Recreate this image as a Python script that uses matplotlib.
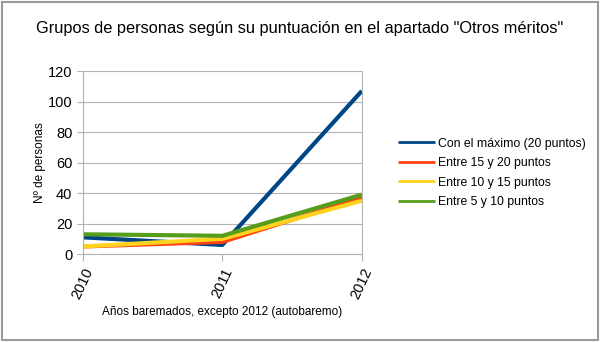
import matplotlib
matplotlib.use('Agg')
import matplotlib.pyplot as plt
from matplotlib.patches import Rectangle

years = ['2010', '2011', '2012']
series_names = ['Con el máximo (20 puntos)', 'Entre 15 y 20 puntos',
                'Entre 10 y 15 puntos', 'Entre 5 y 10 puntos']
maximo = [11, 6, 107]
entre_15_20 = [5, 8, 37]
entre_10_15 = [5, 10, 35]
entre_5_10 = [13, 12, 39]
colors = ['#004586', '#ff420e', '#ffd320', '#579d1c']

plt.rcParams['font.family'] = ['Liberation Sans', 'DejaVu Sans']

fig = plt.figure(figsize=(6, 3.42), dpi=100)
ax = fig.add_axes([0.138, 0.257, 0.465, 0.535])

x = list(range(len(years)))
for vals, name, c in zip([maximo, entre_15_20, entre_10_15, entre_5_10], series_names, colors):
    ax.plot(x, vals, color=c, lw=3, label=name, solid_capstyle='butt')

ax.set_xlim(0, 2)
ax.set_ylim(0, 120)
ax.set_yticks(range(0, 121, 20))
ax.set_xticks(x)
ax.set_xticklabels(years, rotation=65, fontsize=10.5)
ax.tick_params(axis='y', labelsize=10.5, length=4, color='#b3b3b3')
ax.tick_params(axis='x', length=5, color='#b3b3b3')
ax.grid(axis='y', color='#b3b3b3', lw=0.8)
ax.set_axisbelow(True)
for side in ['left', 'bottom', 'right']:
    ax.spines[side].set_color('#b3b3b3')
ax.spines['top'].set_visible(False)

ax.set_ylabel('Nº de personas', fontsize=8.5, labelpad=1)
ax.set_xlabel('Años baremados, excepto 2012 (autobaremo)', fontsize=8.5, labelpad=3)

fig.text(0.5, 0.918, 'Grupos de personas según su puntuación en el apartado "Otros méritos"',
         ha='center', va='center', fontsize=11.8)

leg = fig.legend(loc='upper left', bbox_to_anchor=(0.655, 0.612), frameon=False,
                 fontsize=8.8, handlelength=3.0, handletextpad=0.3, labelspacing=0.62,
                 borderaxespad=0)
for line in leg.get_lines():
    line.set_linewidth(2)

fig.patches.append(Rectangle((0.003, 0.005), 0.994, 0.99, transform=fig.transFigure,
                             fill=False, edgecolor='#9a9a9a', lw=1.5))

fig.savefig('out.png', dpi=100)
